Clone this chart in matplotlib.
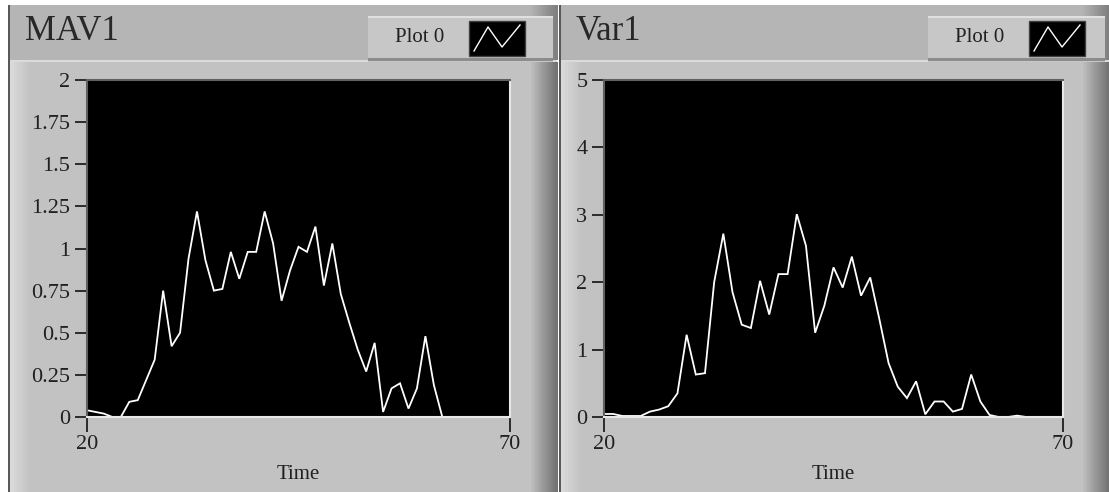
import matplotlib.pyplot as plt
import numpy as np
from matplotlib.patches import Rectangle

# values
mav1_time = list(range(20, 63))
mav1 = [0.04, 0.03, 0.02, 0.0, 0.0, 0.09, 0.10, 0.22, 0.34, 0.75,
        0.42, 0.50, 0.94, 1.22, 0.93, 0.75, 0.76, 0.98, 0.82, 0.98,
        0.98, 1.22, 1.03, 0.69, 0.87, 1.01, 0.98, 1.13, 0.78, 1.03,
        0.73, 0.56, 0.40, 0.27, 0.44, 0.03, 0.17, 0.20, 0.05, 0.17,
        0.48, 0.19, 0.0]

var1_time = list(range(20, 71))
var1 = [0.045, 0.045, 0.015, 0.015, 0.015, 0.08, 0.11, 0.16, 0.35, 1.22,
        0.63, 0.65, 2.0, 2.72, 1.85, 1.37, 1.32, 2.02, 1.52, 2.12,
        2.12, 3.01, 2.54, 1.25, 1.65, 2.22, 1.92, 2.38, 1.80, 2.07,
        1.45, 0.80, 0.45, 0.28, 0.53, 0.04, 0.23, 0.23, 0.08, 0.12,
        0.63, 0.23, 0.03, 0.0, 0.0, 0.02, 0.0, 0.0, 0.0, 0.0, 0.0]

mav1_ticks = [0, 0.25, 0.5, 0.75, 1, 1.25, 1.5, 1.75, 2]
mav1_labels = ['0', '0.25', '0.5', '0.75', '1', '1.25', '1.5', '1.75', '2']
var1_ticks = [0, 1, 2, 3, 4, 5]
x_ticks = [20, 70]

plt.rcParams['font.family'] = ['Liberation Serif', 'DejaVu Serif']

W, H = 1109, 492
fig = plt.figure(figsize=(W / 100, H / 100), dpi=100, facecolor='white')

# background panels drawn in pixel coordinates
bg = fig.add_axes([0, 0, 1, 1], zorder=-5)
bg.set_xlim(0, W)
bg.set_ylim(H, 0)
bg.axis('off')


def shade(x0, x1, y0, y1, c0, c1, steps=20):
    xs = np.linspace(x0, x1, steps + 1)
    for i in range(steps):
        f = i / (steps - 1)
        c = tuple(np.array(c0) * (1 - f) + np.array(c1) * f)
        bg.add_patch(Rectangle((xs[i], y0), xs[i + 1] - xs[i] + 0.5, y1 - y0,
                               color=c, lw=0))


def panel(x0, x1, title, legend_x):
    head = (0.71, 0.71, 0.71)
    body = (0.76, 0.76, 0.76)
    bg.add_patch(Rectangle((x0, 5), x1 - x0, 56, color=head, lw=0))
    bg.add_patch(Rectangle((x0, 60), x1 - x0, H - 60, color=body, lw=0))
    bg.add_patch(Rectangle((x0, 60), x1 - x0, 2, color=(0.86, 0.86, 0.86), lw=0))
    shade(x0, x0 + 24, 62, H, (0.86, 0.86, 0.86), body, 8)
    shade(x1 - 28, x1, 62, H, body, (0.45, 0.45, 0.45), 14)
    shade(x1 - 28, x1, 5, 60, head, (0.50, 0.50, 0.50), 14)
    bg.add_patch(Rectangle((x0, 5), 1.5, H, color=(0.35, 0.35, 0.35), lw=0))
    bg.text(x0 + 17, 31, title, fontsize=25, color='#282828', va='center', ha='left')
    # legend button
    bg.add_patch(Rectangle((legend_x, 16), x1 - legend_x - 4, 46,
                           color=(0.78, 0.78, 0.78), lw=0))
    bg.add_patch(Rectangle((legend_x, 16), x1 - legend_x - 4, 2,
                           color=(0.88, 0.88, 0.88), lw=0))
    bg.add_patch(Rectangle((legend_x, 58), x1 - legend_x - 4, 3,
                           color=(0.55, 0.55, 0.55), lw=0))
    bg.text(legend_x + 52, 38, 'Plot 0', fontsize=15, color='#202020',
            va='center', ha='center')
    sw = Rectangle((legend_x + 101, 21), 56, 35, facecolor='black',
                   edgecolor='#404040', lw=1)
    bg.add_patch(sw)
    bg.plot([legend_x + 106, legend_x + 120, legend_x + 134, legend_x + 152],
            [51, 27, 47, 25], color='white', lw=1)


panel(8, 557, 'MAV1', 368)
panel(559, W, 'Var1', 928)


def chart(x0, x1, t, v, ticks, labels, ymax):
    ax = fig.add_axes([x0 / W, (H - 417) / H, (x1 - x0) / W, 337 / H])
    ax.set_facecolor('black')
    ax.plot(t, v, color='white', lw=1.3, solid_joinstyle='miter')
    ax.set_xlim(20, 70)
    ax.set_ylim(0, ymax)
    ax.set_yticks(ticks)
    ax.set_yticklabels(labels)
    ax.set_xticks(x_ticks)
    ax.tick_params(axis='y', direction='out', length=9, width=1.3, pad=3,
                   color='#202020', labelsize=16, labelcolor='#202020')
    ax.tick_params(axis='x', direction='out', length=11, width=1.3, pad=2,
                   color='#202020', labelsize=16, labelcolor='#202020')
    for s in ['left', 'top']:
        ax.spines[s].set_color('#606060')
    for s in ['right', 'bottom']:
        ax.spines[s].set_color('#e8e8e8')
    for s in ax.spines.values():
        s.set_linewidth(1.5)
    ax.set_xlabel('Time', fontsize=15, color='#202020', labelpad=8)
    return ax


chart(87, 510, mav1_time, mav1, mav1_ticks, mav1_labels, 2)
chart(604, 1063, var1_time, var1, var1_ticks, [str(k) for k in var1_ticks], 5)

fig.savefig('out.png', dpi=100, facecolor='white')
